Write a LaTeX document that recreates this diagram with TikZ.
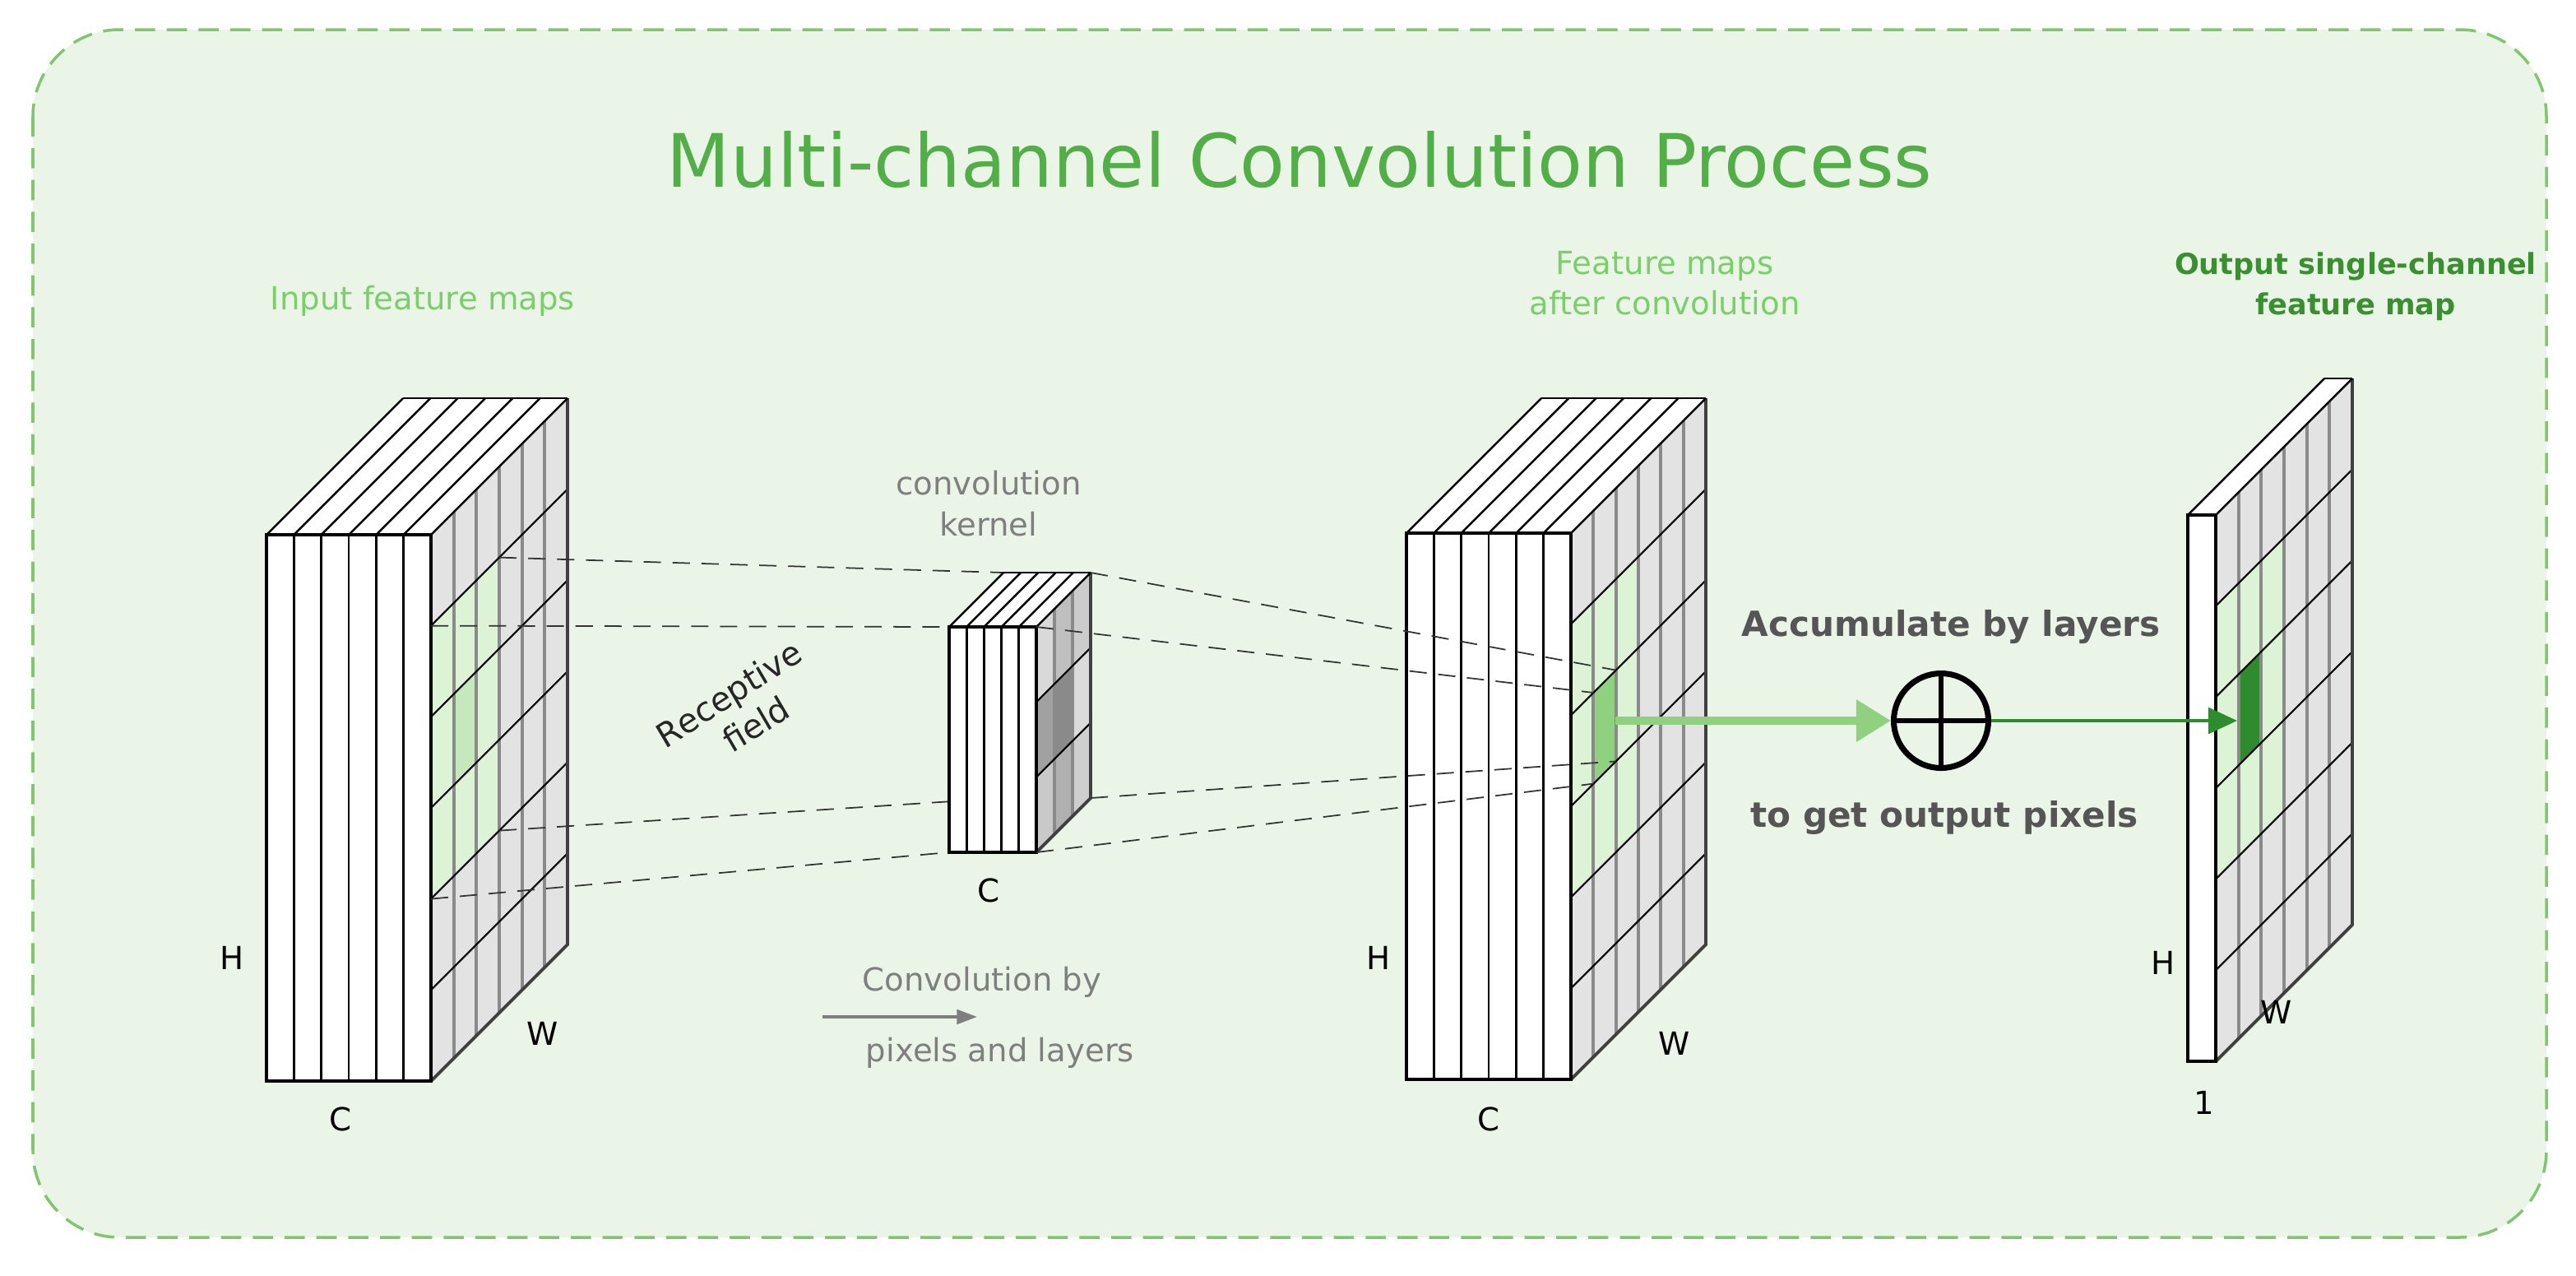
\documentclass[tikz,border=0pt]{standalone}
\usepackage{fontspec}
\setmainfont{DejaVu Sans}
\usetikzlibrary{arrows.meta}
\definecolor{bgg}{HTML}{EBF5E7}
\definecolor{bord}{HTML}{82C56F}
\definecolor{titleg}{HTML}{52AE47}
\definecolor{lblg}{HTML}{7ACF6A}
\definecolor{outg}{HTML}{3A8F30}
\definecolor{sideg}{HTML}{E3E3E3}
\definecolor{gline}{HTML}{8A8A8A}
\definecolor{lgreen}{HTML}{DDF3D6}
\definecolor{mgreen}{HTML}{8FD17F}
\definecolor{igreen}{HTML}{C5E8BC}
\definecolor{dgreen}{HTML}{2E8B2E}
\definecolor{txtgray}{HTML}{7F7F7F}
\definecolor{dtxt}{HTML}{555555}
\tikzset{
  lbl/.style={font=\fontsize{11}{13}\selectfont, text=black, inner sep=0pt},
  glbl/.style={font=\fontsize{11}{14}\selectfont, text=lblg, align=center, inner sep=0pt},
  gray lbl/.style={font=\fontsize{11}{14}\selectfont, text=txtgray, align=center, inner sep=0pt},
  acc/.style={font=\bfseries\fontsize{12}{14}\selectfont, text=dtxt, inner sep=0pt},
  rf/.style={dash pattern=on 6pt off 4pt, line width=0.5pt, black!80},
  outline/.style={line width=0.8pt, black},
}
% #1 x0, #2 y0 (front top), #3 w, #4 slabs, #5 h, #6 d, #7 ncols, #8 nrows
\newcommand\sideface[8]{%
  \pgfmathsetmacro\xa{#1+#3}%
  \fill[sideg] (\xa,#2) -- ++(#6,-#6) -- ++(0,#5) -- ++(-#6,#6) -- cycle;}
\newcommand\sidelines[8]{%
  \pgfmathsetmacro\xa{#1+#3}\pgfmathsetmacro\cw{#6/#7}\pgfmathsetmacro\rh{#5/#8}%
  \foreach \c in {1,...,#7}{\draw[gline, line width=1.1pt] (\xa+\c*\cw,#2-\c*\cw) -- ++(0,#5);}
  \foreach \r in {1,...,#8}{\draw[black, line width=0.6pt] (\xa,#2+\r*\rh) -- ++(#6,-#6);}
  \draw[outline, black!75, line width=1.1pt] (\xa+#6,#2-#6) -- ++(0,#5) -- ++(-#6,#6);
  \fill[white] (#1,#2) -- ++(#6,-#6) -- ++(#3,0) -- ++(-#6,#6) -- cycle;
  \pgfmathsetmacro\sw{#3/#4}%
  \foreach \i in {0,...,#4}{\draw[outline, line width=0.7pt] (#1+\i*\sw,#2) -- ++(#6,-#6);}
  \draw[outline] (#1+#6,#2-#6) -- ++(#3,0);
  \fill[white] (#1,#2) rectangle ++(#3,#5);
  \foreach \i in {1,...,#4}{\draw[outline, line width=0.8pt] (#1+\i*\sw,#2) -- ++(0,#5);}
  \draw[outline, line width=0.9pt] (#1,#2) rectangle ++(#3,#5);}
% cell: #1 x1 (front edge of side), #2 y0, #3 h, #4 d, #5 nc, #6 nr, #7 col, #8 row, #9 color
\newcommand\cell[9]{%
  \pgfmathsetmacro\cw{#4/#5}\pgfmathsetmacro\rh{#3/#6}%
  \fill[#9] (#1+#7*\cw,#2+#8*\rh-#7*\cw) -- ++(\cw,-\cw) -- ++(0,\rh) -- ++(-\cw,\cw) -- cycle;}
\begin{document}
\begin{tikzpicture}[x=0.02cm,y=-0.02cm]
\useasboundingbox (0,0) rectangle (1566,775);
\draw[bord, fill=bgg, line width=1pt, dash pattern=on 7pt off 4pt, rounded corners=30pt] (20,18) rectangle (1548,752);
\node[font=\fontsize{25.5}{30}\selectfont, text=titleg] (title) at (790,97) {Multi-channel Convolution Process};

% ---------- input block ----------
\sideface{162}{325}{100}{6}{332}{83}{6}{6}
\foreach \c in {0,1,2}{\foreach \r in {1,2,3}{\cell{262}{325}{332}{83}{6}{6}{\c}{\r}{lgreen}}}
\cell{262}{325}{332}{83}{6}{6}{1}{2}{igreen}
\sidelines{162}{325}{100}{6}{332}{83}{6}{6}
\coordinate (iBT) at (303.5,338.8);
\coordinate (iFT) at (262,380.3);
\coordinate (iBB) at (303.5,504.8);
\coordinate (iFB) at (262,546.3);
\node[glbl] (inlbl) at (257,183) {Input feature maps};
\node[lbl] (iH) at (141,582) {H};
\node[lbl] (iW) at (330,628) {W};
\node[lbl] (iC) at (207,680) {C};

% ---------- kernel ----------
\coordinate (kBTL) at (610,348);
\coordinate (kFTL) at (577,381);
\coordinate (kBBL) at (610,485);
\coordinate (kFBL) at (577,518);
\draw[rf] (iBT) -- (kBTL);
\draw[rf] (iFT) -- (kFTL);
\draw[rf] (iBB) -- (kBBL);
\draw[rf] (iFB) -- (kFBL);
\sideface{577}{381}{53}{5}{137}{33}{3}{3}
\cell{630}{381}{137}{33}{3}{3}{0}{0}{black!15}
\cell{630}{381}{137}{33}{3}{3}{1}{0}{black!25}
\cell{630}{381}{137}{33}{3}{3}{2}{0}{black!20}
\cell{630}{381}{137}{33}{3}{3}{0}{1}{black!37}
\cell{630}{381}{137}{33}{3}{3}{1}{1}{black!46}
\cell{630}{381}{137}{33}{3}{3}{2}{1}{black!14}
\cell{630}{381}{137}{33}{3}{3}{0}{2}{black!21}
\cell{630}{381}{137}{33}{3}{3}{1}{2}{black!31}
\cell{630}{381}{137}{33}{3}{3}{2}{2}{black!19}
\sidelines{577}{381}{53}{5}{137}{33}{3}{3}
\node[gray lbl] (klbl) at (601,306) {convolution\\kernel};
\node[lbl] (kC) at (601,541) {C};
\node[font=\itshape\fontsize{11.5}{14}\selectfont, text=black!85, rotate=33, xslant=-0.15, align=center, inner sep=0pt] (rf) at (451,431) {Receptive\\field};

% ---------- middle block ----------
\sideface{855}{324}{100}{6}{332}{82}{6}{6}
\foreach \c in {0,1,2}{\foreach \r in {1,2,3}{\cell{955}{324}{332}{82}{6}{6}{\c}{\r}{lgreen}}}
\cell{955}{324}{332}{82}{6}{6}{1}{2}{mgreen}
\sidelines{855}{324}{100}{6}{332}{82}{6}{6}
\coordinate (kBTR) at (663,348);
\coordinate (kFTR) at (630,381);
\coordinate (kBBR) at (663,485);
\coordinate (kFBR) at (630,518);
\coordinate (mRT) at (982.3,407.3);
\coordinate (mLT) at (968.7,421);
\coordinate (mRB) at (982.3,462.7);
\coordinate (mLB) at (968.7,476.3);
\draw[rf] (kBTR) -- (mRT);
\draw[rf] (kFTR) -- (mLT);
\draw[rf] (kBBR) -- (mRB);
\draw[rf] (kFBR) -- (mLB);
\node[glbl] (mlbl) at (1012,172) {Feature maps\\after convolution};
\node[lbl] (mH) at (838,582) {H};
\node[lbl] (mW) at (1018,634) {W};
\node[lbl] (mC) at (905,680) {C};

% ---------- conv arrow ----------
\node[gray lbl] (cb) at (597,597) {Convolution by};
\node[gray lbl] (pl) at (608,640) {pixels and layers};
\coordinate (ca1) at (500,618);
\coordinate (ca2) at (594,618);
\draw[txtgray, line width=1pt, -{Triangle[length=7pt,width=5pt]}] (ca1) -- (ca2);

% ---------- output block ----------
\sideface{1330}{313}{17}{1}{332}{83}{6}{6}
\foreach \c in {0,1,2}{\foreach \r in {1,2,3}{\cell{1347}{313}{332}{83}{6}{6}{\c}{\r}{lgreen}}}
\cell{1347}{313}{332}{83}{6}{6}{1}{2}{dgreen}
\sidelines{1330}{313}{17}{1}{332}{83}{6}{6}
\node[font=\bfseries\fontsize{10}{14}\selectfont, text=outg, align=center, inner sep=0pt] (olbl) at (1432,174) {Output single-channel\\feature map};
\node[lbl] (oH) at (1315,585) {H};
\node[lbl] (oW) at (1384,615) {W};
\node[lbl] (o1) at (1340,670) {1};

% ---------- accumulate ----------
\node[draw=black, line width=2pt, circle, minimum size=1.15cm, inner sep=0pt] (plus) at (1180,438) {};
\draw[line width=1.6pt] (plus.north) -- (plus.south) (plus.west) -- (plus.east);
\node[acc] (acc1) at (1186,381) {Accumulate by layers};
\node[acc] (acc2) at (1182,497) {to get output pixels};
\coordinate (mcell) at (982,438);
\coordinate (ocell) at (1360,438);
\draw[mgreen, line width=2.8pt, -{Triangle[length=12pt,width=14pt]}] (mcell) -- (plus.west);
\draw[dgreen, line width=1.2pt, -{Triangle[length=10pt,width=9pt]}] (plus.east) -- (ocell);
\end{tikzpicture}
\end{document}
